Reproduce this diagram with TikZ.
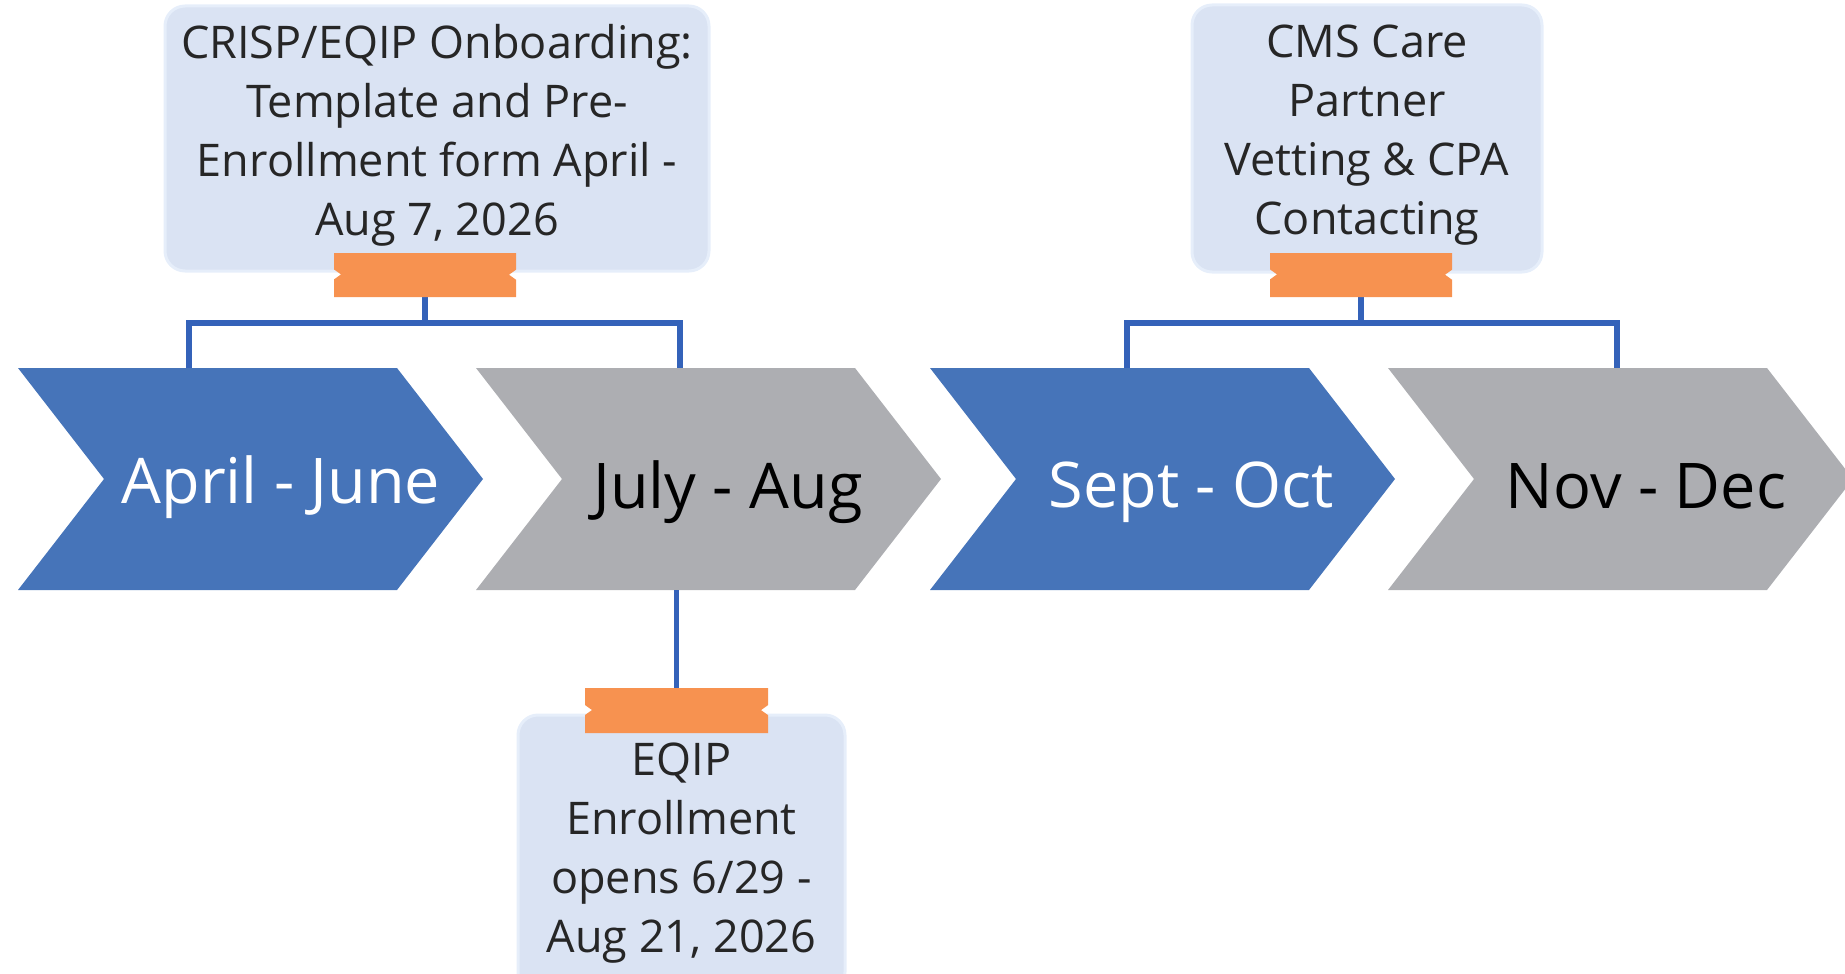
\documentclass[tikz,border=0pt]{standalone}
\usepackage{fontspec}
\setmainfont{Open Sans}
\usetikzlibrary{calc}
\definecolor{chevblue}{HTML}{4674B9}
\definecolor{chevgray}{HTML}{ADAEB2}
\definecolor{linkblue}{HTML}{3462B9}
\definecolor{notefill}{HTML}{DAE3F3}
\definecolor{noteedge}{HTML}{E6EEFA}
\definecolor{tapeorange}{HTML}{F79250}
\definecolor{notetext}{HTML}{262626}

% chevron body drawn from the anchors of its bounding node
\newcommand\chevronfill[2]{%
  \fill[#2] (#1.north west) -- ($(#1.north west)+(379,0)$) -- (#1.east)
    -- ($(#1.south west)+(379,0)$) -- (#1.south west) -- ($(#1.west)+(86,0)$) -- cycle;}
% orange tape strip with small torn notches on its sides
\newcommand\tapefill[1]{%
  \fill[tapeorange] (#1.north west) -- (#1.north east)
    -- ($(#1.north east)!0.38!(#1.south east)$) -- ++(-7,5) -- ++(7,5)
    -- (#1.south east) -- (#1.south west)
    -- ($(#1.south west)!0.4!(#1.north west)$) -- ++(7,-5) -- ++(-7,-5) -- cycle;}

\begin{document}
\begin{tikzpicture}[x=1pt,y=-1pt,
  chevbox/.style={minimum width=465pt, minimum height=222pt, inner sep=0pt, outer sep=0pt},
  chevtext/.style={anchor=base, font=\fontsize{63}{75}\selectfont, inner sep=0pt},
  note/.style={rounded corners=20pt, fill=notefill, draw=noteedge, line width=3pt, inner sep=0pt},
  notetxt/.style={inner sep=0pt, align=center, text=notetext, font=\fontsize{45}{59}\selectfont, yshift=3pt},
  tape/.style={inner sep=0pt, outer sep=0pt},
  conn/.style={draw=linkblue, line width=5.5pt},
]
\clip (0,0) rectangle (1845,974);

% timeline chevrons
\node[chevbox] (c1) at (250.5,479) {};
\node[chevbox] (c2) at (708.5,479) {};
\node[chevbox] (c3) at (1162.5,479) {};
\node[chevbox] (c4) at (1620.5,479) {};
\chevronfill{c1}{chevblue}
\chevronfill{c2}{chevgray}
\chevronfill{c3}{chevblue}
\chevronfill{c4}{chevgray}

\node[chevtext, text=white] (l1) at ($(c1.west)+(263,24)$) {April - June};
\node[chevtext, text=black] (l2) at ($(c2.west)+(252,29)$) {July - Aug};
\node[chevtext, text=white] (l3) at ($(c3.west)+(261,28)$) {Sept - Oct};
\node[chevtext, text=black] (l4) at ($(c4.west)+(258,29)$) {Nov - Dec};

% milestone notes
\node[note, minimum width=544pt, minimum height=265pt] (n1) at (437,138.5) {};
\node[note, minimum width=350pt, minimum height=267pt] (n2) at (1367,138.5) {};
\node[note, minimum width=327pt, minimum height=277pt] (n3) at (681.5,853.5) {};
\node[notetxt] (m1) at (n1.center)
  {CRISP/EQIP Onboarding:\\Template and Pre-\\Enrollment form April -\\Aug 7, 2026};
\node[notetxt] (m2) at (n2.center)
  {CMS Care\\Partner\\Vetting \& CPA\\Contacting};
\node[notetxt, yshift=-3pt] (m3) at (n3.center)
  {EQIP\\Enrollment\\opens 6/29 -\\Aug 21, 2026};

% tape strips
\node[tape, minimum width=182pt, minimum height=44pt] (t1) at (425,275) {};
\node[tape, minimum width=182pt, minimum height=44pt] (t2) at (1361,275) {};
\node[tape, minimum width=183pt, minimum height=45pt] (t3) at (676.5,710.5) {};

% bracket connectors
\coordinate (bar) at (0,323);
\coordinate (a1) at ($(c1.north west)+(171,0)$);
\coordinate (b1) at ($(c2.north west)+(204,0)$);
\coordinate (a2) at ($(c3.north west)+(197,0)$);
\coordinate (b2) at ($(c4.north west)+(229,0)$);
\draw[conn] (t1.south) -- (t1.south |- bar);
\draw[conn] (a1) -- (a1 |- bar) -- (b1 |- bar) -- (b1);
\draw[conn] (t2.south) -- (t2.south |- bar);
\draw[conn] (a2) -- (a2 |- bar) -- (b2 |- bar) -- (b2);
\draw[conn] (t3.north |- c2.south) -- (t3.north);

\tapefill{t1}
\tapefill{t2}
\tapefill{t3}
\end{tikzpicture}
\end{document}
